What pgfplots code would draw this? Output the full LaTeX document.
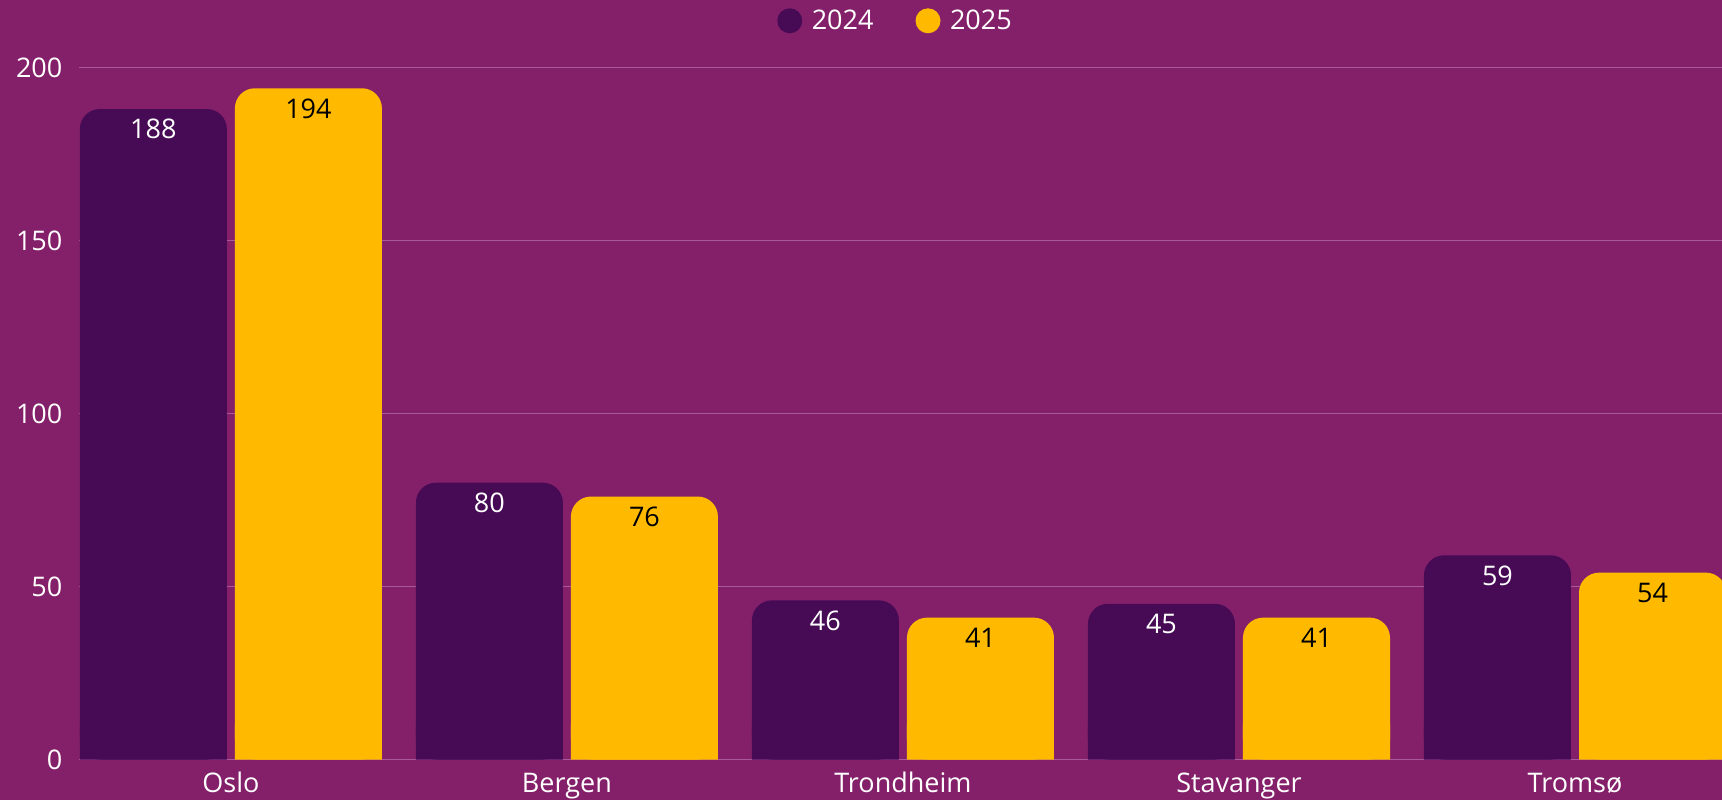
\documentclass[border=0pt]{standalone}
\usepackage{fontspec}
\setmainfont{Open Sans}
\usepackage{pgfplots}
\pgfplotsset{compat=1.18}
\definecolor{bg}{HTML}{84206A}
\definecolor{dark}{HTML}{470A55}
\definecolor{gold}{HTML}{FFBA00}
\definecolor{gridc}{HTML}{A8599A}
\newcommand{\lbl}{\fontsize{13.5}{16}\selectfont}
\begin{document}
\begin{tikzpicture}[x=1pt,y=1pt]
\fill[bg] (0,0) rectangle (861,400);
\begin{axis}[
  at={(39.5pt,20.25pt)}, anchor=south west,
  scale only axis, width=821.5pt, height=346pt,
  xmin=-0.452, xmax=4.4375, ymin=0, ymax=200,
  ybar, bar width=0.4375,
  xtick={0,1,2,3,4},
  xticklabels={Oslo,Bergen,Trondheim,Stavanger,Tromsø},
  ytick={0,50,100,150,200},
  ymajorgrids, grid style={gridc, line width=0.6pt},
  axis line style={draw=none},
  major tick length=0pt,
  tick label style={font=\lbl, text=white},
  /pgf/number format/assume math mode=true,
  xticklabel style={anchor=base, inner sep=0pt, yshift=-16.5pt},
  yticklabel style={xshift=-4.8pt},
  legend style={at={(0.5,1)}, anchor=center, yshift=23.35pt, xshift=-2pt, draw=none, fill=none,
    text=white, font=\lbl, legend columns=-1,
    /tikz/every even column/.append style={column sep=19pt}},
]
\addplot[fill=dark, draw=none, bar shift=-0.2307, forget plot]
  coordinates {(0,10) (1,10) (2,10) (3,10) (4,10)};
\addplot[fill=gold, draw=none, bar shift=0.2307, forget plot]
  coordinates {(0,10) (1,10) (2,10) (3,10) (4,10)};
\addplot[fill=dark, draw=none, bar shift=-0.2307, rounded corners=10pt,
  legend image code/.code={\fill[dark] (0pt,0pt) circle (6.25pt); \path (9pt,0pt);},
  nodes near coords,
  every node near coord/.append style={text=white, anchor=north, inner sep=0pt, yshift=-5pt, font=\lbl}]
  coordinates {(0,188) (1,80) (2,46) (3,45) (4,59)};
\addlegendentry{2024}
\addplot[fill=gold, draw=none, bar shift=0.2307, rounded corners=10pt,
  legend image code/.code={\fill[gold] (0pt,0pt) circle (6.25pt); \path (9pt,0pt);},
  nodes near coords,
  every node near coord/.append style={text=black, anchor=north, inner sep=0pt, yshift=-5pt, font=\lbl}]
  coordinates {(0,194) (1,76) (2,41) (3,41) (4,54)};
\addlegendentry{2025}
\end{axis}
\pgfresetboundingbox
\path (0,0) rectangle (861,400);
\end{tikzpicture}
\end{document}
